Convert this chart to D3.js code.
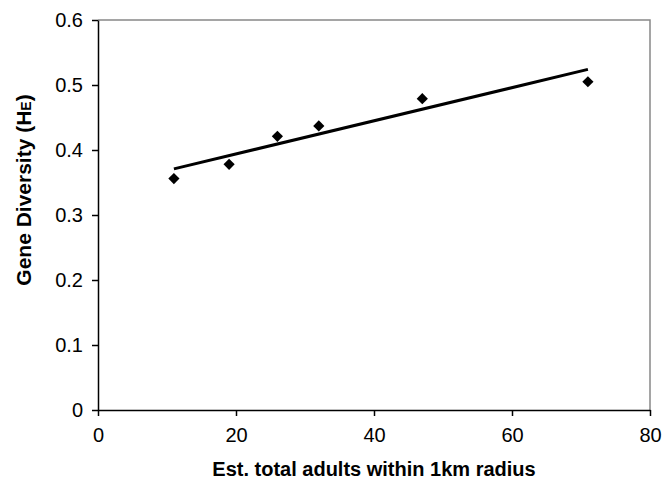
<!DOCTYPE html>
<html>
<head>
<meta charset="utf-8">
<script src="https://cdn.jsdelivr.net/npm/d3@7"></script>
<style>
body { margin: 0; background: #fff; }
svg { font-family: "Liberation Sans", Arial, sans-serif; }
</style>
</head>
<body>
<svg id="chart"></svg>
<script>
// data
const adults = [11, 19, 26, 32, 47, 71]
const diversity = [0.356, 0.378, 0.421, 0.437, 0.479, 0.505]
const trendX = [11, 71]
const trendY = [0.371, 0.524]
const xTicks = [0, 20, 40, 60, 80]
const yTicks = [0, 0.1, 0.2, 0.3, 0.4, 0.5, 0.6]

const width = 671, height = 484
const margins = {left: 98, right: 21, top: 20, bottom: 74}

const svg = d3.select("#chart").attr("width", width).attr("height", height)

const scaleX = d3.scaleLinear().domain([0, 80]).range([margins.left, width - margins.right])
const scaleY = d3.scaleLinear().domain([0, 0.6]).range([height - margins.bottom, margins.top])

// grey frame top/right
svg.append("path")
    .attr("d", `M${scaleX(0)},${scaleY(0.6)}H${scaleX(80)}V${scaleY(0)}`)
    .attr("fill", "none")
    .attr("stroke", "#888")
    .attr("stroke-width", 1.5)

const xAxis = d3.axisBottom(scaleX).tickValues(xTicks).tickSize(6).tickSizeOuter(0).tickFormat(d3.format("d"))
const yAxis = d3.axisLeft(scaleY).tickValues(yTicks).tickSize(6).tickSizeOuter(0).tickFormat(d => d === 0 ? "0" : d3.format(".1f")(d))

const gx = svg.append("g").attr("transform", `translate(0, ${scaleY(0)})`).call(xAxis)
const gy = svg.append("g").attr("transform", `translate(${scaleX(0)}, 0)`).call(yAxis)

for (const g of [gx, gy]) {
    g.selectAll(".domain").attr("stroke", "#000").attr("stroke-width", 1.5)
    g.selectAll(".tick line").attr("stroke", "#000").attr("stroke-width", 1.5)
    g.selectAll(".tick text").attr("font-size", 20).attr("fill", "#000")
        .attr("font-family", "'Liberation Sans', Arial, sans-serif")
}
gx.selectAll(".tick text").attr("y", 18).attr("dy", "0.71em")
gy.selectAll(".tick text").attr("x", -15)

// trend line
svg.append("line")
    .attr("x1", scaleX(trendX[0])).attr("y1", scaleY(trendY[0]))
    .attr("x2", scaleX(trendX[1])).attr("y2", scaleY(trendY[1]))
    .attr("stroke", "#000")
    .attr("stroke-width", 3)

// diamond markers
const diamond = d3.symbol().type(d3.symbolDiamond2).size(80)
svg.selectAll(".pt")
    .data(adults)
    .join("path")
    .attr("class", "pt")
    .attr("d", diamond)
    .attr("transform", (d, i) => `translate(${scaleX(d)}, ${scaleY(diversity[i])})`)
    .attr("fill", "#000")

// axis titles
svg.append("text")
    .attr("x", 374)
    .attr("y", 476)
    .attr("text-anchor", "middle")
    .attr("font-size", 20)
    .attr("font-weight", "bold")
    .text("Est. total adults within 1km radius")

const yt = svg.append("text")
    .attr("transform", `translate(31, 190) rotate(-90)`)
    .attr("text-anchor", "middle")
    .attr("font-size", 21)
    .attr("font-weight", "bold")
yt.append("tspan").text("Gene Diversity (H")
yt.append("tspan").attr("font-size", 14).text("E")
yt.append("tspan").text(")")
</script>
</body>
</html>
